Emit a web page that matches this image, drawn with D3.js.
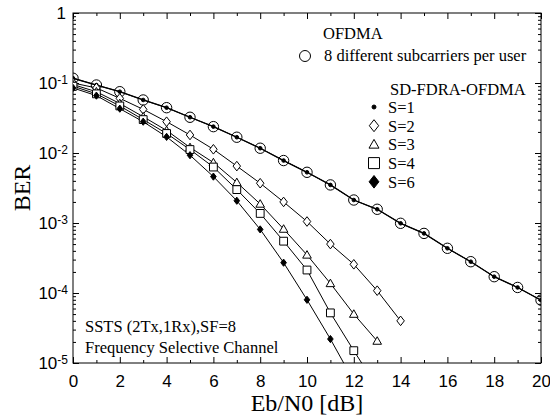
<!DOCTYPE html>
<html>
<head>
<meta charset="utf-8">
<script src="https://cdn.jsdelivr.net/npm/d3@7"></script>
<style>
  body { margin: 0; background: #fff; }
  svg { display: block; font-family: "Liberation Serif", "Times New Roman", serif; }
</style>
</head>
<body>
<div id="chart"></div>
<script>
// Eb/N0 grid (dB)
const ebn0 = [0, 1, 2, 3, 4, 5, 6, 7, 8, 9, 10, 11, 12, 13, 14, 15, 16, 17, 18, 19, 20];

// BER
const berOfdma = [0.117, 0.0936, 0.0751, 0.0572, 0.0444, 0.0324, 0.0238, 0.0168, 0.0117, 0.0078, 0.0053,
  0.0035, 0.00213, 0.00157, 0.00099, 0.00071, 0.000435, 0.00028, 0.000171, 0.00012, 0.000079];
const berS1 = [0.117, 0.0936, 0.0751, 0.0572, 0.0444, 0.0324, 0.0238, 0.0168, 0.0117, 0.0078, 0.0053,
  0.0035, 0.00213, 0.00157, 0.00099, 0.00071, 0.000435, 0.00028, 0.000171, 0.00012, 0.000079];
const berS2 = [0.1, 0.085, 0.0604, 0.042, 0.028, 0.0181, 0.0113, 0.0065, 0.0037, 0.002, 0.00105,
  0.0005, 0.000257, 0.000108, 0.00004];
const berS3 = [0.095, 0.075, 0.051, 0.033, 0.021, 0.012, 0.0073, 0.0038, 0.00187, 0.00082, 0.00035,
  0.000137, 0.00005, 0.0000206];
const berS4 = [0.09, 0.07, 0.047, 0.03, 0.019, 0.0112, 0.0063, 0.003, 0.00137, 0.00055, 0.000213,
  0.000052, 0.000015, 0.0000045];
const berS6 = [0.085, 0.066, 0.043, 0.028, 0.017, 0.0093, 0.0046, 0.00208, 0.00081, 0.000271, 0.00008,
  0.000022, 0.0000055];

const yMajor = [1, 1e-1, 1e-2, 1e-3, 1e-4, 1e-5];
const xMajor = [0, 2, 4, 6, 8, 10, 12, 14, 16, 18, 20];

const legendItems = [
  { label: "S=1", marker: "dot" },
  { label: "S=2", marker: "diamond" },
  { label: "S=3", marker: "triangle" },
  { label: "S=4", marker: "square" },
  { label: "S=6", marker: "fdiamond" },
];

const width = 550, height = 415;
const margin = { top: 13, right: 9, bottom: 52, left: 73 };
const innerW = width - margin.left - margin.right;
const innerH = height - margin.top - margin.bottom;

const x = d3.scaleLinear().domain([0, 20]).range([margin.left, margin.left + innerW]);
const y = d3.scaleLog().domain([1e-5, 1]).range([margin.top + innerH, margin.top]);

// marker outlines, s = half size
function markerPath(type, s) {
  switch (type) {
    case "circle":
    case "dot":
      return `M${-s},0A${s},${s} 0 1,0 ${s},0A${s},${s} 0 1,0 ${-s},0Z`;
    case "diamond":
    case "fdiamond":
      return `M0,${-s}L${s * 0.78},0L0,${s}L${-s * 0.78},0Z`;
    case "triangle":
      return `M0,${-s}L${s},${s * 0.75}L${-s},${s * 0.75}Z`;
    case "square":
      return `M${-s},${-s}H${s}V${s}H${-s}Z`;
    default:
      return "";
  }
}

const svg = d3.select("#chart").append("svg")
  .attr("width", width)
  .attr("height", height);

svg.append("clipPath").attr("id", "plot-clip")
  .append("rect")
  .attr("x", margin.left).attr("y", margin.top)
  .attr("width", innerW).attr("height", innerH);

// minor tick values
const yMinor = [];
for (let e = -5; e < 0; e++) for (let m = 2; m <= 9; m++) yMinor.push(m * Math.pow(10, e));
const xMinor = ebn0.filter((d) => d % 2 === 1);

const axes = svg.append("g").attr("class", "axes");

function addAxis(gen, tr, values, size, labels) {
  const g = axes.append("g").attr("transform", tr)
    .call(gen.tickValues(values).tickSizeInner(-size).tickSizeOuter(0));
  g.select(".domain").remove();
  g.selectAll(".tick line").attr("stroke", "#000");
  if (!labels) g.selectAll(".tick text").remove();
  return g;
}

const left = addAxis(d3.axisLeft(y).tickPadding(5).tickFormat(() => ""), `translate(${margin.left},0)`, yMajor, 6, true);
left.selectAll(".tick text")
  .attr("font-size", 17)
  .attr("fill", "#000")
  .attr("font-family", null)
  .each(function (d) {
    const t = d3.select(this);
    if (d === 1) {
      t.text("1").attr("x", -7);
      return;
    }
    t.append("tspan").text("10");
    t.append("tspan").attr("dy", "-0.45em").attr("font-size", 12).text(Math.round(Math.log10(d)));
  });
addAxis(d3.axisLeft(y), `translate(${margin.left},0)`, yMinor, 3, false);
addAxis(d3.axisRight(y), `translate(${margin.left + innerW},0)`, yMajor, 6, false);
addAxis(d3.axisRight(y), `translate(${margin.left + innerW},0)`, yMinor, 3, false);

const bottom = addAxis(d3.axisBottom(x).tickPadding(12).tickFormat(d3.format("d")),
  `translate(0,${margin.top + innerH})`, xMajor, 6, true);
bottom.selectAll(".tick text").attr("font-size", 17).attr("fill", "#000").attr("font-family", null);
addAxis(d3.axisBottom(x), `translate(0,${margin.top + innerH})`, xMinor, 3, false);
addAxis(d3.axisTop(x), `translate(0,${margin.top})`, xMajor, 6, false);
addAxis(d3.axisTop(x), `translate(0,${margin.top})`, xMinor, 3, false);

svg.append("rect")
  .attr("x", margin.left).attr("y", margin.top)
  .attr("width", innerW).attr("height", innerH)
  .attr("fill", "none").attr("stroke", "#000").attr("stroke-width", 1);

// axis titles
svg.append("text")
  .attr("x", margin.left + innerW / 2).attr("y", 411)
  .attr("text-anchor", "middle").attr("font-size", 24)
  .text("Eb/N0 [dB]");
svg.append("text")
  .attr("transform", `translate(30,${margin.top + innerH / 2}) rotate(-90)`)
  .attr("text-anchor", "middle").attr("font-size", 24)
  .text("BER");

// curves
const series = [
  { values: berOfdma, marker: "circle", size: 5.2, fill: "none", width: 1.3 },
  { values: berS1, marker: "dot", size: 1.8, fill: "#000", width: 1 },
  { values: berS2, marker: "diamond", size: 4.8, fill: "#fff", width: 1 },
  { values: berS3, marker: "triangle", size: 4.3, fill: "#fff", width: 1 },
  { values: berS4, marker: "square", size: 3.9, fill: "#fff", width: 1 },
  { values: berS6, marker: "fdiamond", size: 3.6, fill: "#000", width: 1 },
];

const line = d3.line().x((d) => x(d[0])).y((d) => y(d[1]));
const plot = svg.append("g").attr("clip-path", "url(#plot-clip)");

series.forEach((s) => {
  const pts = s.values.map((v, i) => [ebn0[i], v]);
  plot.append("path")
    .attr("d", line(pts))
    .attr("fill", "none")
    .attr("stroke", "#000")
    .attr("stroke-width", s.width);
});
series.forEach((s) => {
  const pts = s.values.map((v, i) => [ebn0[i], v]);
  plot.append("g").selectAll("path")
    .data(pts)
    .join("path")
    .attr("transform", (d) => `translate(${x(d[0])},${y(d[1])})`)
    .attr("d", markerPath(s.marker, s.size))
    .attr("fill", s.fill)
    .attr("stroke", "#000")
    .attr("stroke-width", 1);
});

// legend
const lg = svg.append("g").attr("font-size", 16.5);
lg.append("text").attr("x", 323).attr("y", 39).text("OFDMA");
lg.append("path")
  .attr("transform", "translate(305,56)")
  .attr("d", markerPath("circle", 5.5))
  .attr("fill", "none").attr("stroke", "#000");
lg.append("text").attr("x", 324).attr("y", 61).text("8 different subcarriers per user");
lg.append("text").attr("x", 390).attr("y", 95).text("SD-FDRA-OFDMA");

const legendSize = { dot: 2, diamond: 6, triangle: 5, square: 5.5, fdiamond: 6.3 };
const legendRow = lg.selectAll("g.row")
  .data(legendItems)
  .join("g")
  .attr("class", "row")
  .attr("transform", (d, i) => `translate(0,${113 + i * 18.7})`);
legendRow.append("path")
  .attr("transform", "translate(374,-6)")
  .attr("d", (d) => markerPath(d.marker, legendSize[d.marker]))
  .attr("fill", (d) => (d.marker === "dot" || d.marker === "fdiamond" ? "#000" : "none"))
  .attr("stroke", "#000");
legendRow.append("text").attr("x", 388).attr("y", 0).text((d) => d.label);

// inset note
const note = svg.append("g").attr("font-size", 16.5);
note.append("text").attr("x", 85).attr("y", 332).text("SSTS (2Tx,1Rx),SF=8");
note.append("text").attr("x", 85).attr("y", 353).text("Frequency Selective Channel");
</script>
</body>
</html>
